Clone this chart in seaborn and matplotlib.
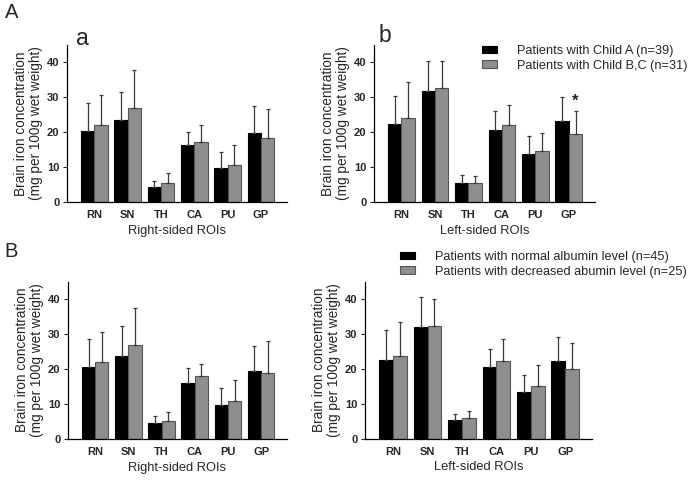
import numpy as np
import pandas as pd
import seaborn as sns
import matplotlib.pyplot as plt
from matplotlib.patches import Patch

sns.set_style("ticks")
plt.rcParams['font.family'] = ['Liberation Sans', 'DejaVu Sans']

rois = ['RN', 'SN', 'TH', 'CA', 'PU', 'GP']

# A: Child-Pugh groups
child_a_right = [20.3, 23.5, 4.4, 16.3, 9.6, 19.7]
child_a_right_sd = [7.9, 7.8, 1.6, 3.7, 4.8, 7.6]
child_bc_right = [21.9, 26.9, 5.4, 17.2, 10.6, 18.4]
child_bc_right_sd = [8.7, 10.7, 2.9, 4.7, 5.7, 8.3]

child_a_left = [22.2, 31.8, 5.5, 20.7, 13.6, 23.2]
child_a_left_sd = [8.0, 8.6, 2.1, 5.3, 5.3, 6.9]
child_bc_left = [24.0, 32.5, 5.5, 22.0, 14.6, 19.5]
child_bc_left_sd = [10.3, 7.9, 2.0, 5.7, 5.2, 6.5]

# B: albumin groups
alb_normal_right = [20.6, 23.8, 4.6, 16.1, 9.8, 19.3]
alb_normal_right_sd = [7.9, 8.5, 2.1, 4.3, 4.7, 7.2]
alb_low_right = [22.0, 27.0, 5.2, 17.9, 10.8, 19.0]
alb_low_right_sd = [8.6, 10.4, 2.6, 3.6, 6.0, 9.0]

alb_normal_left = [22.5, 31.9, 5.4, 20.7, 13.5, 22.4]
alb_normal_left_sd = [8.7, 8.6, 1.8, 5.0, 4.7, 6.7]
alb_low_left = [23.8, 32.3, 5.9, 22.4, 15.1, 19.9]
alb_low_left_sd = [9.7, 7.7, 2.2, 6.2, 6.1, 7.4]

child_labels = ['Patients with Child A (n=39)', 'Patients with Child B,C (n=31)']
alb_labels = ['Patients with normal albumin level (n=45)',
              'Patients with decreased abumin level (n=25)']

fill_colors = ['#000000', '#8e8e8e']
edge_colors = ['#000000', '#555555']


def draw_panel(ax, m1, s1, m2, s2, xlabel):
    df = pd.DataFrame({
        'roi': rois * 2,
        'group': ['g1'] * 6 + ['g2'] * 6,
        'value': m1 + m2,
    })
    sns.barplot(data=df, x='roi', y='value', hue='group', order=rois,
                hue_order=['g1', 'g2'], palette=fill_colors, errorbar=None,
                width=0.8, gap=0, legend=False, ax=ax)
    for cont, ec, sd in zip(ax.containers, edge_colors, [s1, s2]):
        xs, hs = [], []
        for bar in cont:
            bar.set_edgecolor(ec)
            bar.set_linewidth(0.8)
            xs.append(bar.get_x() + bar.get_width() / 2)
            hs.append(bar.get_height())
        ax.errorbar(xs, hs, yerr=[np.zeros(len(hs)), sd], fmt='none',
                    ecolor='#3a3a3a', elinewidth=0.9, capsize=1.6,
                    capthick=0.9, zorder=1)
    ax.set_ylim(0, 45)
    ax.set_xlim(-0.82, 5.78)
    ax.set_yticks([0, 10, 20, 30, 40])
    ax.set_xlabel(xlabel, fontsize=9.3, labelpad=3.5)
    ax.set_ylabel('Brain iron concentration\n(mg per 100g wet weight)',
                  fontsize=9.8, linespacing=1.05, labelpad=3)
    ax.tick_params(axis='x', length=0, pad=5.5, labelsize=8)
    ax.tick_params(axis='y', length=3, width=0.8, pad=2.5, labelsize=8)
    for lab in ax.get_xticklabels() + ax.get_yticklabels():
        lab.set_fontweight('bold')
    for sp in ['top', 'right']:
        ax.spines[sp].set_visible(False)
    for sp in ['left', 'bottom']:
        ax.spines[sp].set_linewidth(0.9)
        ax.spines[sp].set_color('#000000')


fig = plt.figure(figsize=(6.89, 4.82), dpi=100)
W, H = 689, 482


def add_ax(x0, x1, base):
    top = base - 157.5
    return fig.add_axes([x0 / W, 1 - base / H, (x1 - x0) / W, (base - top) / H])


ax_aa = add_ax(67, 287, 202)
ax_ab = add_ax(374, 595, 202)
ax_ba = add_ax(68, 287, 439)
ax_bb = add_ax(365, 592, 439)

draw_panel(ax_aa, child_a_right, child_a_right_sd, child_bc_right, child_bc_right_sd, 'Right-sided ROIs')
draw_panel(ax_ab, child_a_left, child_a_left_sd, child_bc_left, child_bc_left_sd, 'Left-sided ROIs')
draw_panel(ax_ba, alb_normal_right, alb_normal_right_sd, alb_low_right, alb_low_right_sd, 'Right-sided ROIs')
draw_panel(ax_bb, alb_normal_left, alb_normal_left_sd, alb_low_left, alb_low_left_sd, 'Left-sided ROIs')

# significance marker on GP, Child B,C
gp_bar = ax_ab.containers[1][5]
ax_ab.text(gp_bar.get_x() + gp_bar.get_width() / 2,
           child_bc_left[5] + child_bc_left_sd[5] + 0.6, '*',
           ha='center', va='bottom', fontsize=12, fontweight='bold')

# panel letters
fig.text(5 / W, 1 - 3 / H, 'A', fontsize=14.5, va='top', ha='left')
fig.text(4 / W, 1 - 242 / H, 'B', fontsize=14.5, va='top', ha='left')
fig.text(76 / W, 1 - 27 / H, 'a', fontsize=16.5, va='top', ha='left')
fig.text(379 / W, 1 - 24 / H, 'b', fontsize=16.5, va='top', ha='left')


def make_legend(labels, x, y):
    handles = [Patch(facecolor=fc, edgecolor=ec, linewidth=0.8)
               for fc, ec in zip(fill_colors, edge_colors)]
    fig.legend(handles, labels, loc='upper left', bbox_to_anchor=(x / W, 1 - y / H),
               frameon=False, fontsize=9.2, borderpad=0, borderaxespad=0,
               handlelength=1.2, handleheight=0.5, handletextpad=1.55,
               labelspacing=0.2)


make_legend(child_labels, 482, 45)
make_legend(alb_labels, 400, 251)

fig.savefig('out.png', dpi=100)
